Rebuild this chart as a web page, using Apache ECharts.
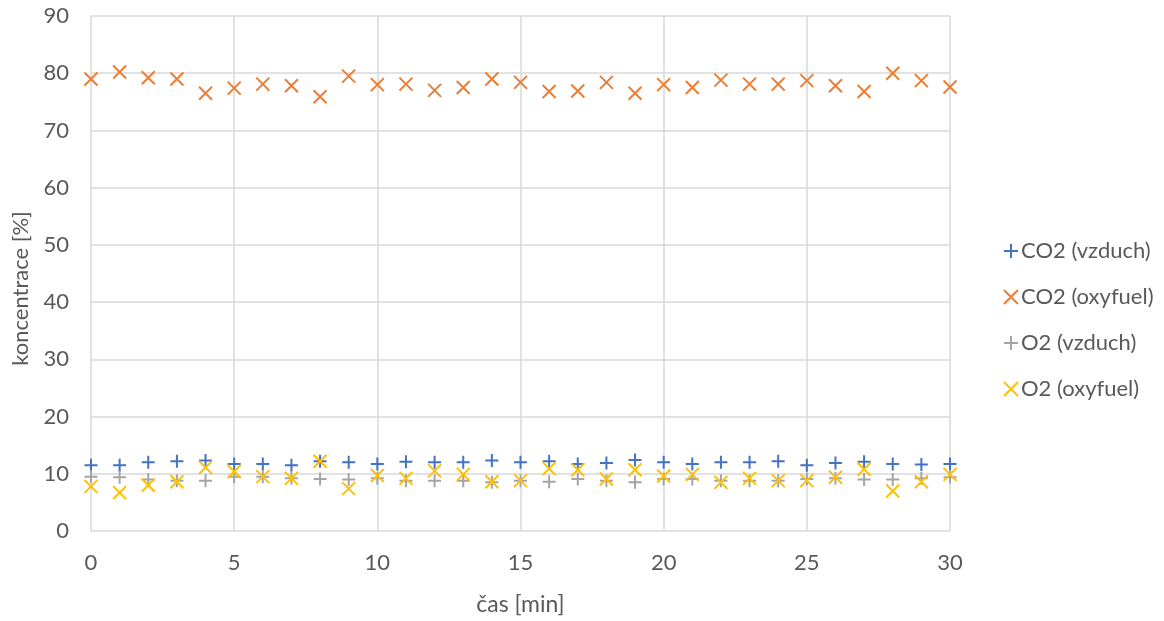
<!DOCTYPE html>
<html>
<head>
<meta charset="utf-8">
<script src="https://cdn.jsdelivr.net/npm/echarts@6/dist/echarts.min.js"></script>
<style>
  html, body { margin: 0; padding: 0; background: #fff; }
  #chart { width: 1164px; height: 621px; }
</style>
</head>
<body>
<div id="chart"></div>
<script>
// time in minutes
const minutes = [0,1,2,3,4,5,6,7,8,9,10,11,12,13,14,15,16,17,18,19,20,21,22,23,24,25,26,27,28,29,30];

// gas concentrations [%]
const co2Air = [11.5,11.5,12.0,12.2,12.3,11.7,11.7,11.5,12.2,12.0,11.7,12.1,12.0,12.0,12.3,12.0,12.2,11.7,11.9,12.4,12.0,11.7,12.0,12.0,12.2,11.5,11.9,12.1,11.7,11.6,11.7];
const co2Oxy = [79.0,80.2,79.2,79.0,76.5,77.4,78.1,77.8,75.9,79.5,78.0,78.1,77.0,77.5,79.0,78.4,76.8,76.9,78.4,76.5,78.0,77.5,78.8,78.1,78.1,78.7,77.8,76.8,80.0,78.7,77.6];
const o2Air = [9.5,9.4,9.0,8.8,8.8,9.5,9.5,9.2,9.1,9.0,9.2,8.8,8.8,8.8,8.5,8.8,8.6,9.1,8.8,8.5,9.1,9.1,8.8,8.8,8.8,9.1,9.2,9.0,9.0,9.2,9.4];
const o2Oxy = [7.8,6.7,8.0,8.6,11.1,10.4,9.5,9.2,12.2,7.4,9.7,9.2,10.5,9.9,8.6,8.8,10.9,10.7,9.1,10.7,9.6,9.9,8.5,9.2,8.8,8.8,9.4,10.8,7.0,8.6,9.9];

// axis ticks
const xTicks = [0, 5, 10, 15, 20, 25, 30];
const yTicks = [0, 10, 20, 30, 40, 50, 60, 70, 80, 90];

const seriesNames = ['CO2 (vzduch)', 'CO2 (oxyfuel)', 'O2 (vzduch)', 'O2 (oxyfuel)'];
const seriesColors = ['#4472C4', '#ED7D31', '#A5A5A5', '#FFC000'];

const PLUS = 'path://M0,6.5H13M6.5,0V13';
const CROSS = 'path://M0,0L13,13M13,0L0,13';

const FONT = 'Lato, "Open Sans", sans-serif';
const TEXT = '#595959';
const FS = 22;

function pairs(vals) {
  return minutes.map((m, i) => [m, vals[i]]);
}

function scatter(idx, vals, symbol, size) {
  return {
    name: seriesNames[idx],
    type: 'scatter',
    data: pairs(vals),
    symbol: symbol,
    symbolSize: size,
    itemStyle: {
      color: 'rgba(0,0,0,0)',
      borderColor: seriesColors[idx],
      borderWidth: 2,
      opacity: 1
    },
    emphasis: { disabled: true }
  };
}

const chart = echarts.init(document.getElementById('chart'), null, { renderer: 'canvas' });
chart.setOption({
  animation: false,
  textStyle: { fontFamily: FONT },
  grid: { left: 91, right: 214, top: 16, bottom: 89 },
  xAxis: {
    type: 'value',
    min: 0, max: 30, interval: 5,
    name: 'čas [min]',
    nameLocation: 'middle',
    nameGap: 62,
    nameTextStyle: { fontSize: 23, color: TEXT, fontFamily: FONT },
    axisLine: { show: false },
    axisTick: { show: false },
    axisLabel: {
      fontSize: FS, color: TEXT, margin: 21, fontFamily: FONT,
      formatter: v => xTicks.includes(v) ? String(v) : ''
    },
    splitLine: { show: true, lineStyle: { color: '#D9D9D9', width: 1.5 } }
  },
  yAxis: {
    type: 'value',
    min: 0, max: 90, interval: 10,
    name: 'koncentrace [%]',
    nameLocation: 'middle',
    nameGap: 59,
    nameTextStyle: { fontSize: FS, color: TEXT, fontFamily: FONT, padding: [0, 30, 0, 0] },
    axisLine: { show: false },
    axisTick: { show: false },
    axisLabel: {
      fontSize: FS, color: TEXT, margin: 22, fontFamily: FONT,
      formatter: v => yTicks.includes(v) ? String(v) : ''
    },
    splitLine: { show: true, lineStyle: { color: '#D9D9D9', width: 1.5 } }
  },
  legend: {
    orient: 'vertical',
    left: 998,
    top: 235,
    itemWidth: 14,
    itemHeight: 14,
    itemGap: 24,
    textStyle: { fontSize: FS, color: TEXT, fontFamily: FONT, padding: [0, 0, 0, -2] },
    data: seriesNames
  },
  series: [
    scatter(0, co2Air, PLUS, 13),
    scatter(1, co2Oxy, CROSS, 13),
    scatter(2, o2Air, PLUS, 13),
    scatter(3, o2Oxy, CROSS, 13)
  ]
});
</script>
</body>
</html>
